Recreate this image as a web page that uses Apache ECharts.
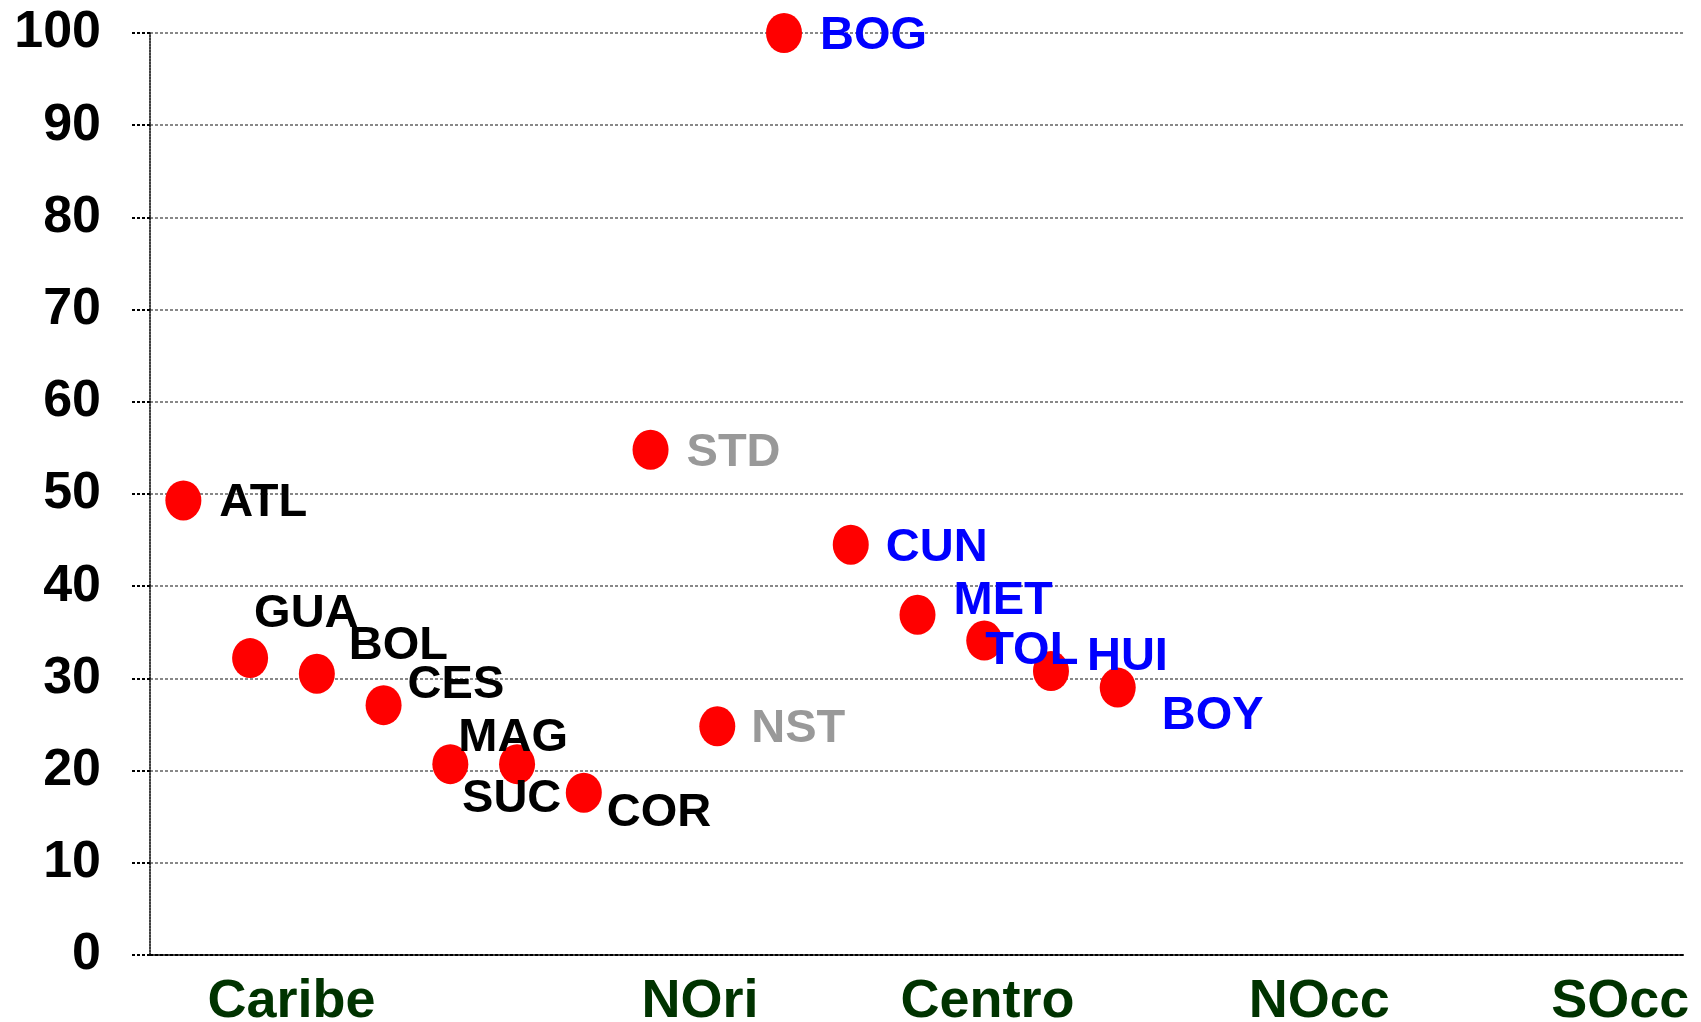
<!DOCTYPE html>
<html>
<head>
<meta charset="utf-8">
<script src="https://cdn.jsdelivr.net/npm/echarts@6/dist/echarts.min.js"></script>
<style>
  html, body { margin: 0; padding: 0; background: #fff; }
  #chart { width: 1701px; height: 1022px; }
</style>
</head>
<body>
<div id="chart"></div>
<script>
// departamentos, en el orden en que aparecen de izquierda a derecha
const depts = ['ATL', 'GUA', 'BOL', 'CES', 'MAG', 'SUC', 'COR', 'STD', 'NST', 'BOG', 'CUN', 'MET', 'TOL', 'HUI', 'BOY']
const values = [49.3, 32.2, 30.5, 27.1, 20.7, 20.7, 17.6, 54.8, 24.8, 100, 44.5, 36.9, 34.1, 30.8, 29.0]
// region de cada departamento (define el color de la etiqueta)
const deptRegion = ['Caribe', 'Caribe', 'Caribe', 'Caribe', 'Caribe', 'Caribe', 'Caribe', 'NOri', 'NOri', 'Centro', 'Centro', 'Centro', 'Centro', 'Centro', 'Centro']
// etiquetas de region en el eje x
const regions = ['Caribe', 'NOri', 'Centro', 'NOcc', 'SOcc']
const regionAt = [2.12, 8.24, 12.55, 17.52, 22.03]
const yTicks = [0, 10, 20, 30, 40, 50, 60, 70, 80, 90, 100]

const fontFam = "'Liberation Sans', Arial, sans-serif"

const regionColor = {
  Caribe: '#000000',
  NOri: '#999999',
  Centro: '#0000ff'
}

// desplazamiento manual de las etiquetas (como en el original)
const labelShift = {
  ATL: [0, 3], GUA: [-32, -44], BOL: [-4, -28], CES: [-12, -20],
  MAG: [-28, -26], SUC: [-91, 35], COR: [-13, 20], STD: [0, 3],
  NST: [-2, 3], BOG: [0, 3], CUN: [-1, 3], MET: [0, -14],
  TOL: [-35, 10], HUI: [0, -14], BOY: [8, 28]
}

const chart = echarts.init(document.getElementById('chart'))

const points = depts.map((d, i) => ({
  name: d,
  value: [i + 0.5, values[i]],
  label: {
    color: regionColor[deptRegion[i]],
    offset: labelShift[d]
  }
}))

chart.setOption({
  animation: false,
  backgroundColor: '#ffffff',
  grid: {
    left: 150,
    right: 16,
    top: 33,
    bottom: 67,
    outerBoundsMode: 'none',
    containLabel: false
  },
  xAxis: {
    type: 'value',
    min: 0,
    max: 23,
    splitLine: { show: false },
    axisTick: { show: false },
    axisLine: {
      onZero: false,
      lineStyle: { color: '#000', width: 2, type: [3, 2] }
    },
    axisLabel: {
      customValues: regionAt,
      formatter: v => regions[regionAt.indexOf(v)] || '',
      margin: 20,
      color: '#003300',
      fontFamily: fontFam,
      fontWeight: 'bold',
      fontSize: 54
    }
  },
  yAxis: {
    type: 'value',
    min: 0,
    max: 100,
    interval: 10,
    axisLine: {
      show: true,
      lineStyle: { color: '#000', width: 1.5, type: [2, 1] }
    },
    axisTick: {
      show: true,
      length: 18,
      lineStyle: { color: '#000', width: 2, type: [3, 2] }
    },
    splitLine: {
      show: true,
      lineStyle: { color: '#888', width: 2, type: [3, 2] }
    },
    axisLabel: {
      formatter: v => (yTicks.includes(v) ? String(v) : ''),
      margin: 49,
      padding: [7, 0, 0, 0],
      color: '#000',
      fontFamily: fontFam,
      fontWeight: 'bold',
      fontSize: 52
    }
  },
  series: [{
    type: 'scatter',
    symbol: 'circle',
    symbolSize: [36, 40],
    itemStyle: { color: '#ff0000', opacity: 1 },
    label: {
      show: true,
      position: 'right',
      distance: 18,
      formatter: '{b}',
      fontFamily: fontFam,
      fontWeight: 'bold',
      fontSize: 47
    },
    data: points
  }]
})
</script>
</body>
</html>
